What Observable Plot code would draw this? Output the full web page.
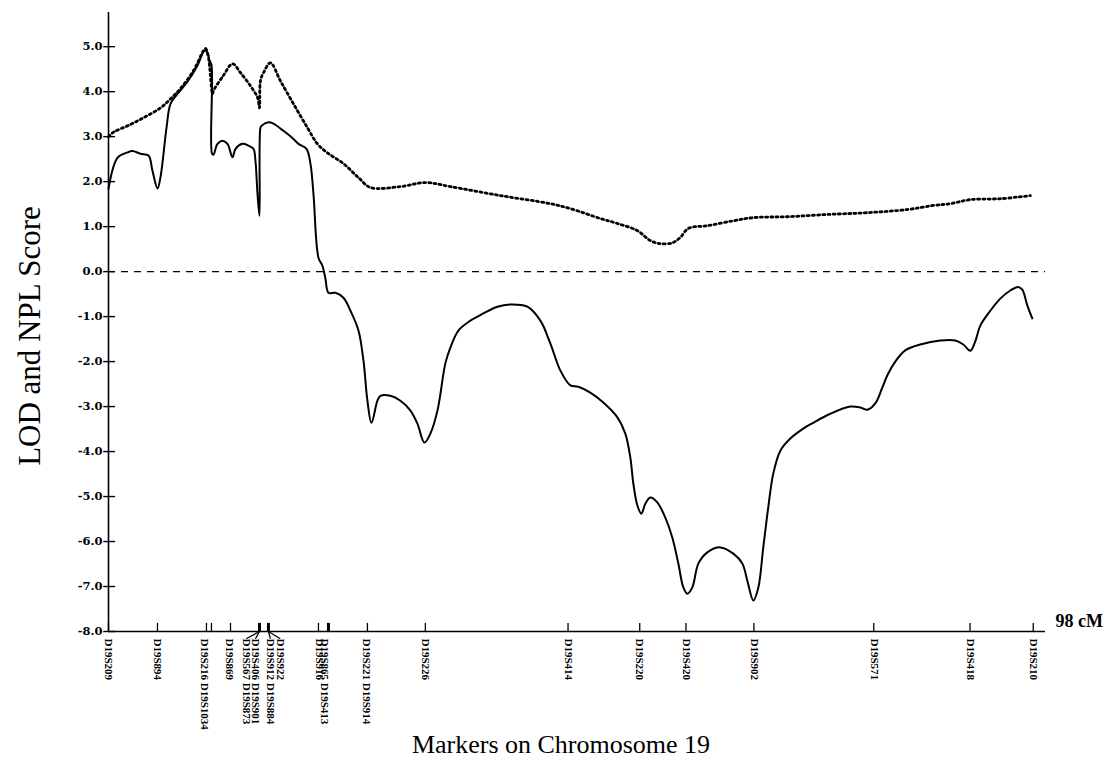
<!DOCTYPE html>
<html>
<head>
<meta charset="utf-8">
<script src="https://cdn.jsdelivr.net/npm/d3@7"></script>
<script src="https://cdn.jsdelivr.net/npm/@observablehq/plot@0.6"></script>
<style>
  html, body { margin: 0; padding: 0; background: #fff; }
</style>
</head>
<body>
<div id="chart"></div>
<script>
// ---- Data (cM along chromosome 19) ----
const lodPos = [0,0.95,2.01,2.54,3.39,4.24,4.66,5.19,5.51,6.15,6.57,7.31,8.37,9.43,10.17,10.49,10.7,10.91,10.97,11.12,11.55,12.08,12.61,13.14,13.46,14.2,14.83,15.36,15.57,15.79,16.0,16.1,16.21,16.95,17.48,18.54,19.6,20.13,20.98,21.4,21.72,22.25,22.67,22.99,23.31,24.05,24.9,25.64,26.49,27.02,27.44,27.87,28.5,28.82,29.88,30.94,32.0,32.74,33.48,34.11,34.86,35.7,36.23,37.08,38.35,39.73,41.21,42.59,44.39,45.77,46.83,47.89,48.95,49.79,51.06,52.44,53.93,54.77,55.3,55.62,56.05,56.47,56.89,57.42,58.16,59.01,59.75,60.39,60.92,61.34,61.87,62.51,63.46,64.84,66.22,67.17,67.7,68.34,68.87,69.39,69.92,70.45,71.2,72.26,73.63,74.69,76.49,78.61,79.67,80.42,81.26,82.0,82.53,83.38,84.44,86.03,88.15,89.74,90.59,91.33,91.86,92.39,93.45,94.51,95.57,96.41,96.84,97.37,97.9];
const lodVal = [1.84,2.53,2.65,2.68,2.62,2.58,2.24,1.85,2.1,3.2,3.73,3.95,4.22,4.58,4.91,4.87,4.69,4.6,2.62,2.6,2.84,2.91,2.84,2.54,2.73,2.84,2.8,2.73,2.47,1.73,1.24,3.2,3.24,3.32,3.29,3.13,2.95,2.84,2.73,2.4,1.73,0.31,0.13,-0.16,-0.47,-0.47,-0.58,-0.87,-1.31,-1.98,-2.87,-3.36,-2.87,-2.76,-2.76,-2.87,-3.09,-3.38,-3.8,-3.6,-3.09,-2.04,-1.69,-1.31,-1.09,-0.93,-0.78,-0.73,-0.78,-1.09,-1.6,-2.2,-2.53,-2.56,-2.69,-2.91,-3.24,-3.6,-4.13,-4.71,-5.2,-5.38,-5.16,-5.02,-5.13,-5.47,-5.91,-6.49,-7.02,-7.16,-7.02,-6.49,-6.24,-6.13,-6.27,-6.49,-6.87,-7.31,-7.02,-6.13,-5.24,-4.49,-3.98,-3.71,-3.49,-3.36,-3.16,-3.0,-3.02,-3.07,-2.93,-2.58,-2.31,-2.0,-1.75,-1.62,-1.53,-1.53,-1.62,-1.76,-1.55,-1.2,-0.87,-0.6,-0.42,-0.34,-0.4,-0.75,-1.04];

const nplPos = [0,0.53,2.01,3.71,5.51,6.57,7.63,9.01,10.06,10.28,10.59,11.02,11.12,12.18,13.14,13.99,15.04,15.79,16.0,16.1,16.42,17.16,18.22,19.6,21.08,22.14,23.2,24.9,26.49,27.76,30.94,33.59,36.23,41.53,46.83,48.95,52.13,53.93,56.05,57.42,58.48,59.75,60.6,61.45,63.46,66.22,68.34,71.94,76.18,80.42,84.65,87.41,89.21,91.33,94.51,97.69];
const nplVal = [3.0,3.1,3.24,3.42,3.64,3.84,4.07,4.47,4.91,4.96,4.76,3.95,4.02,4.36,4.62,4.42,4.13,3.87,3.64,4.24,4.42,4.64,4.24,3.73,3.2,2.84,2.64,2.4,2.09,1.87,1.89,1.98,1.89,1.69,1.51,1.4,1.18,1.07,0.91,0.69,0.62,0.64,0.76,0.96,1.02,1.13,1.2,1.22,1.27,1.31,1.38,1.47,1.51,1.6,1.62,1.69];

// marker ticks on the axis
const tickPos   = [0,5.19,10.38,10.91,12.93,16.0,16.95,22.25,23.31,27.44,33.58,48.7,56.3,61.2,68.4,81.1,91.3,98];
const tickBold  = [false,false,false,false,false,true,true,false,true,false,false,false,false,false,false,false,false,false];

// marker labels (text, label position, tick it hangs from)
const labelText = ["D19S209","D19S894","D19S216 D19S1034","D19S869","D19S567 D19S873","D19S406 D19S901","D19S912 D19S884","D19S922","D19S916","D19S865 D19S413","D19S221 D19S914","D19S226","D19S414","D19S220","D19S420","D19S902","D19S571","D19S418","D19S210"];
const labelPos  = [0,5.19,10.17,12.8,14.6,15.57,17.16,18.2,22.35,22.88,27.33,33.58,48.73,56.26,61.24,68.44,81.15,91.33,98];
const labelFrom = [null,null,null,null,16.0,16.0,16.95,16.95,null,null,null,null,null,null,null,null,null,null,null];

const yTicks = [5,4,3,2,1,0,-1,-2,-3,-4,-5,-6,-7,-8];
const xMax = 99.3;
const yTop = 5.76;

const lod = lodPos.map((x, i) => ({x, y: lodVal[i]}));
const npl = nplPos.map((x, i) => ({x, y: nplVal[i]}));
const ticks = tickPos.map((x, i) => ({x, bold: tickBold[i]}));
const labels = labelText.map((t, i) => ({t, x: labelPos[i], from: labelFrom[i]}));
const links = labels.filter(d => d.from !== null);

const serif = "'Liberation Serif', 'Times New Roman', serif";

const chart = Plot.plot({
  width: 1107,
  height: 761,
  marginLeft: 108,
  marginRight: 62,
  marginTop: 12,
  marginBottom: 130,
  x: {domain: [0, xMax], axis: null},
  y: {domain: [-8, yTop], axis: null},
  style: {fontFamily: serif, background: "white", color: "black"},
  marks: [
    // axes lines
    Plot.ruleX([0], {y1: -8, y2: yTop, stroke: "black", strokeWidth: 1.6}),
    Plot.ruleY([-8], {x1: 0, x2: xMax, stroke: "black", strokeWidth: 1.6}),
    // y ticks (crossing the axis)
    Plot.ruleY(yTicks, {x1: -0.5, x2: 0.75, stroke: "black", strokeWidth: 1.4}),
    Plot.text(yTicks, {x: 0, y: d => d, text: d => d.toFixed(1), dx: -6, textAnchor: "end",
      fontFamily: "'DejaVu Serif', serif", fontWeight: "bold", fontSize: 11.5, fill: "black"}),
    // zero line
    Plot.ruleY([0], {x1: 0, x2: xMax, stroke: "black", strokeWidth: 1.1, strokeDasharray: "7,6"}),
    // marker ticks
    Plot.ruleX(ticks, {x: "x", y1: -8, y2: -7.82, stroke: "black", strokeWidth: d => d.bold ? 3 : 1.3}),
    Plot.link(links, {x1: "from", y1: -8, x2: "x", y2: -8.16, stroke: "black", strokeWidth: 1.3}),
    Plot.text(labels, {x: "x", y: -8, text: "t", rotate: 90, textAnchor: "start", dy: 7,
      fontWeight: "bold", fontSize: 11, fill: "black"}),
    // NPL (dotted) and LOD (solid)
    Plot.line(npl, {x: "x", y: "y", stroke: "black", strokeWidth: 2.8, strokeDasharray: "2,3.2", curve: "catmull-rom"}),
    Plot.line(lod, {x: "x", y: "y", stroke: "black", strokeWidth: 2, curve: "catmull-rom"}),
    // 98 cM
    Plot.text(["98 cM"], {x: xMax, y: -8, dx: 10, dy: -10, textAnchor: "start", fontSize: 18, fontWeight: "bold", fill: "black"}),
    // axis titles
    Plot.text(["LOD and NPL Score"], {frameAnchor: "left", textAnchor: "middle", dx: -78, dy: 14, rotate: -90, fontSize: 31, fill: "black"}),
    Plot.text(["Markers on Chromosome 19"], {frameAnchor: "bottom", textAnchor: "middle", dx: -16, dy: 121, fontSize: 26, fill: "black"})
  ]
});
document.getElementById("chart").appendChild(chart);
</script>
</body>
</html>
